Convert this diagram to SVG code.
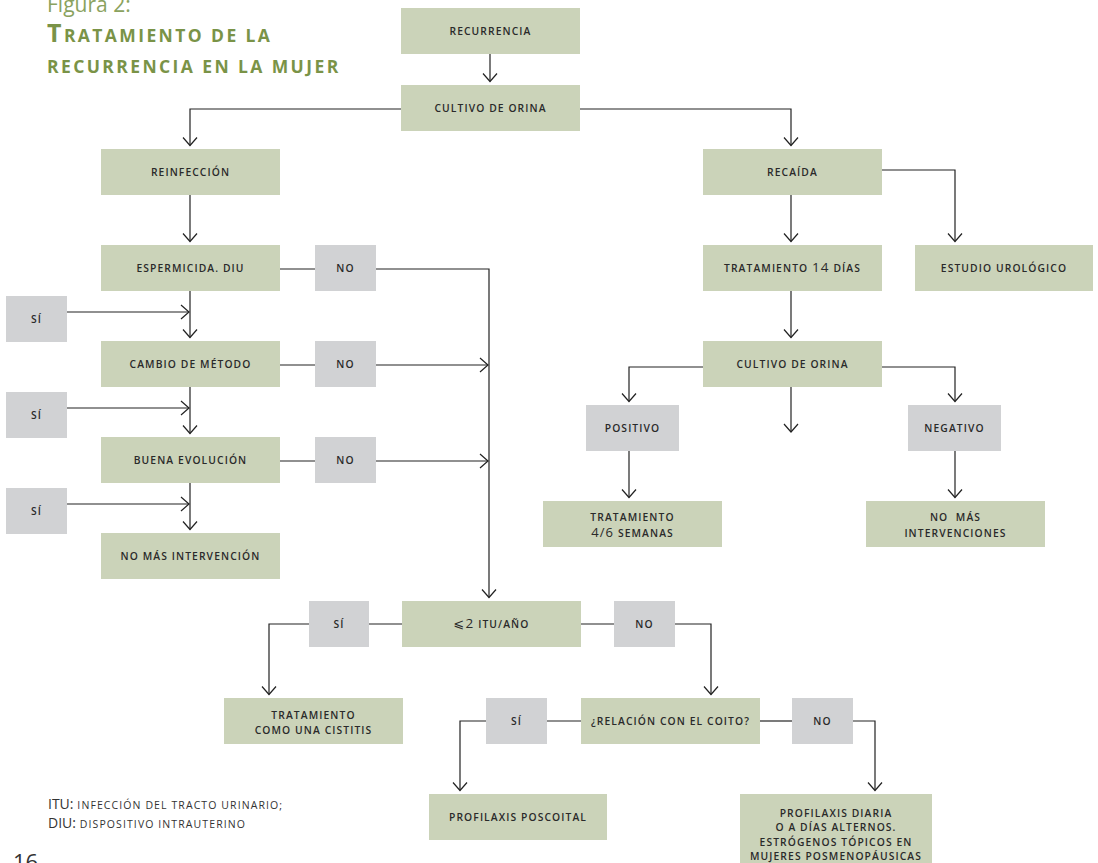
<svg xmlns="http://www.w3.org/2000/svg" width="1098" height="863" viewBox="0 0 1098 863">
<defs>
<marker id="ah" viewBox="-10 -10 20 20" markerWidth="20" markerHeight="20" refX="0" refY="0" orient="auto" markerUnits="userSpaceOnUse">
<path d="M-8,-7 L0,0 L-8,7" fill="none" stroke="#222" stroke-width="1.2"/>
</marker>
<style>
.g{fill:#cbd3b9}
.q{fill:#d1d2d4}
.t{font-family:"Open Sans","Liberation Sans",sans-serif;font-size:10.3px;font-weight:600;letter-spacing:1.1px;fill:#2a2a2a;text-anchor:middle}
.b{font-size:13.5px}
.c{fill:none;stroke:#222;stroke-width:1.2}
.a{marker-end:url(#ah)}
.ti{font-family:"Open Sans","Liberation Sans",sans-serif;font-weight:bold;fill:#7a9347;letter-spacing:2.4px}
.fn{font-family:"Open Sans","Liberation Sans",sans-serif;fill:#333}
</style>
</defs>
<rect width="1098" height="863" fill="#fff"/>
<g id="title">
<text x="47" y="12" font-family="Open Sans, Liberation Sans, sans-serif" font-size="21" fill="#8aa25e">Figura 2:</text>
<text class="ti" x="47" y="42"><tspan font-size="25">T</tspan><tspan font-size="17.5">RATAMIENTO DE LA</tspan></text>
<text class="ti" x="47" y="73" font-size="17.5">RECURRENCIA EN LA MUJER</text>
</g>
<g id="connectors">
<path class="c a" d="M490,53 V81.5"/>
<path class="c a" d="M401,109 H190 V145.5"/>
<path class="c a" d="M580,109 H791 V145.5"/>
<path class="c a" d="M190,195 V241.5"/>
<path class="c a" d="M190,291 V337.5"/>
<path class="c a" d="M190,387 V433.5"/>
<path class="c a" d="M190,483 V529.5"/>
<path class="c a" d="M67,312 H189"/>
<path class="c a" d="M67,408 H189"/>
<path class="c a" d="M67,504 H189"/>
<path class="c" d="M280,269 H315"/>
<path class="c a" d="M376,269 H489 V597.5"/>
<path class="c" d="M280,365 H315"/>
<path class="c a" d="M376,365 H488"/>
<path class="c" d="M280,461 H315"/>
<path class="c a" d="M376,461 H488"/>
<path class="c a" d="M791,195 V241.5"/>
<path class="c a" d="M882,170 H955 V241.5"/>
<path class="c a" d="M791,291 V337.5"/>
<path class="c a" d="M703,367 H629 V401.5"/>
<path class="c a" d="M791,387 V432"/>
<path class="c a" d="M882,367 H955 V401.5"/>
<path class="c a" d="M629,451 V497.5"/>
<path class="c a" d="M955,451 V497.5"/>
<path class="c" d="M402,624 H369"/>
<path class="c a" d="M309,624 H269 V694.5"/>
<path class="c" d="M581,624 H614"/>
<path class="c a" d="M675,624 H711 V694.5"/>
<path class="c" d="M581,721 H547"/>
<path class="c a" d="M486,721 H460 V790.5"/>
<path class="c" d="M760,721 H792"/>
<path class="c a" d="M853,721 H875 V790.5"/>
</g>
<g id="recurrencia"><rect class="g" x="401" y="8" width="179" height="46"/><text class="t" x="490.5" y="35">RECURRENCIA</text></g>
<g id="cultivo1"><rect class="g" x="401" y="85" width="179" height="46"/><text class="t" x="490.5" y="112">CULTIVO DE ORINA</text></g>
<g id="reinfeccion"><rect class="g" x="101" y="149" width="179" height="46"/><text class="t" x="190.5" y="176">REINFECCIÓN</text></g>
<g id="espermicida"><rect class="g" x="101" y="245" width="179" height="46"/><text class="t" x="190.5" y="272">ESPERMICIDA. DIU</text></g>
<g id="no1"><rect class="q" x="315" y="245" width="61" height="46"/><text class="t" x="345.5" y="272">NO</text></g>
<g id="si1"><rect class="q" x="6" y="296" width="61" height="46"/><text class="t" x="36.5" y="323">SÍ</text></g>
<g id="cambio"><rect class="g" x="101" y="341" width="179" height="46"/><text class="t" x="190.5" y="368">CAMBIO DE MÉTODO</text></g>
<g id="no2"><rect class="q" x="315" y="341" width="61" height="46"/><text class="t" x="345.5" y="368">NO</text></g>
<g id="si2"><rect class="q" x="6" y="392" width="61" height="46"/><text class="t" x="36.5" y="419">SÍ</text></g>
<g id="buena"><rect class="g" x="101" y="437" width="179" height="46"/><text class="t" x="190.5" y="464">BUENA EVOLUCIÓN</text></g>
<g id="no3"><rect class="q" x="315" y="437" width="61" height="46"/><text class="t" x="345.5" y="464">NO</text></g>
<g id="si3"><rect class="q" x="6" y="488" width="61" height="46"/><text class="t" x="36.5" y="515">SÍ</text></g>
<g id="nomas1"><rect class="g" x="101" y="533" width="179" height="46"/><text class="t" x="190.5" y="560">NO MÁS INTERVENCIÓN</text></g>
<g id="recaida"><rect class="g" x="703" y="149" width="179" height="46"/><text class="t" x="792.5" y="176">RECAÍDA</text></g>
<g id="trat14"><rect class="g" x="703" y="245" width="179" height="46"/><text class="t" x="792.5" y="272">TRATAMIENTO <tspan class="b" font-weight="normal">14</tspan> DÍAS</text></g>
<g id="estudio"><rect class="g" x="915" y="245" width="178" height="46"/><text class="t" x="1004" y="272">ESTUDIO UROLÓGICO</text></g>
<g id="cultivo2"><rect class="g" x="703" y="341" width="179" height="46"/><text class="t" x="792.5" y="368">CULTIVO DE ORINA</text></g>
<g id="positivo"><rect class="q" x="586" y="405" width="93" height="46"/><text class="t" x="632.5" y="432">POSITIVO</text></g>
<g id="negativo"><rect class="q" x="908" y="405" width="93" height="46"/><text class="t" x="954.5" y="432">NEGATIVO</text></g>
<g id="trat46"><rect class="g" x="543" y="501" width="179" height="46"/><text class="t" x="632.5" y="521">TRATAMIENTO</text><text class="t" x="632.5" y="537"><tspan font-size="13" font-weight="normal">4/6</tspan> SEMANAS</text></g>
<g id="nomas2"><rect class="g" x="866" y="501" width="179" height="46"/><text class="t" x="955.5" y="521" xml:space="preserve">NO  MÁS</text><text class="t" x="955.5" y="537">INTERVENCIONES</text></g>
<g id="itu"><rect class="g" x="402" y="601" width="179" height="46"/><text class="t" x="491.5" y="628"><tspan font-family="DejaVu Sans, Open Sans, sans-serif" font-size="13" font-weight="normal">⩽</tspan><tspan class="b" font-weight="normal">2</tspan> ITU/AÑO</text></g>
<g id="si4"><rect class="q" x="309" y="601" width="60" height="46"/><text class="t" x="339" y="628">SÍ</text></g>
<g id="no4"><rect class="q" x="614" y="601" width="61" height="46"/><text class="t" x="644.5" y="628">NO</text></g>
<g id="cistitis"><rect class="g" x="224" y="698" width="179" height="46"/><text class="t" x="313.5" y="719">TRATAMIENTO</text><text class="t" x="313.5" y="734">COMO UNA CISTITIS</text></g>
<g id="relacion"><rect class="g" x="581" y="698" width="179" height="46"/><text class="t" x="670.5" y="725">¿RELACIÓN CON EL COITO?</text></g>
<g id="si5"><rect class="q" x="486" y="698" width="61" height="46"/><text class="t" x="516.5" y="725">SÍ</text></g>
<g id="no5"><rect class="q" x="792" y="698" width="61" height="46"/><text class="t" x="822.5" y="725">NO</text></g>
<g id="poscoital"><rect class="g" x="429" y="794" width="178" height="46"/><text class="t" x="518" y="821">PROFILAXIS POSCOITAL</text></g>
<g id="diaria"><rect class="g" x="740" y="794" width="192" height="75"/><text class="t" x="836" y="817">PROFILAXIS DIARIA</text><text class="t" x="836" y="831">O A DÍAS ALTERNOS.</text><text class="t" x="836" y="846">ESTRÓGENOS TÓPICOS EN</text><text class="t" x="836" y="860">MUJERES POSMENOPÁUSICAS</text></g>
<g id="footnote">
<text class="fn" x="48" y="809"><tspan font-size="14">ITU:</tspan><tspan font-size="10.5" letter-spacing="1.1"> INFECCIÓN DEL TRACTO URINARIO;</tspan></text>
<text class="fn" x="48" y="828"><tspan font-size="14">DIU:</tspan><tspan font-size="10.5" letter-spacing="1.1"> DISPOSITIVO INTRAUTERINO</tspan></text>
<text class="fn" x="13" y="870" font-size="22" fill="#444">16</text>
</g>
</svg>
